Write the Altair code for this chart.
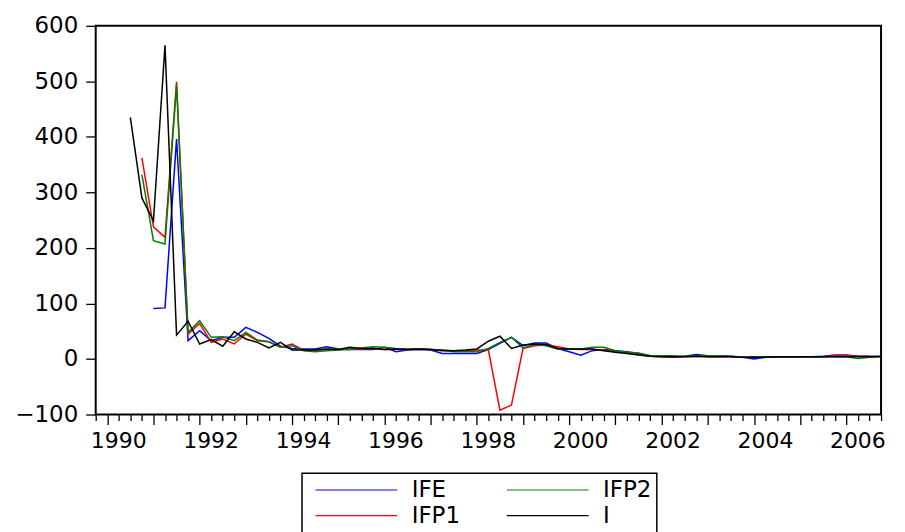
import altair as alt
import pandas as pd

# quarterly periods shown (1990Q3 .. 2006Q4)
years = list(range(1990, 2007))
all_quarters = [f"{y}Q{q}" for y in years for q in range(1, 5)]
quarters = all_quarters[2:]

series_names = ["IFE", "IFP1", "IFP2", "I"]

I_vals = [435, 290, 249, 565, 43, 68, 27, 35, 23, 49, 36, 30, 20, 30, 16,
          16, 16, 18, 17, 21, 19, 19, 17, 18, 17, 18, 17, 15, 15, 16, 18,
          32, 41, 19, 25, 27, 26, 19, 18, 18, 18, 15, 12, 10, 7, 5, 4,
          4, 4, 5, 4, 4, 4, 3, 3, 3, 4, 4, 4, 4, 4, 4, 4, 4, 4, 4]

IFP1_vals = [None,
             362, 238, 219, 499, 45, 64, 30, 36, 27, 45, 33, 31, 21, 27,
             16, 16, 17, 17, 18, 18, 19, 17, 17, 17, 18, 17, 16, 15, 15, 16,
             16, -92, -83, 19, 24, 25, 22, 18, 17, 17, 16, 13, 12, 8, 5, 4,
             4, 4, 5, 4, 4, 4, 3, 3, 3, 4, 4, 4, 4, 4, 6, 6, 5, 5,
             None]

IFP2_vals = [None,
             332, 213, 207, 493, 48, 69, 39, 40, 33, 48, 34, 31, 21, 24,
             15, 13, 15, 16, 17, 20, 22, 21, 19, 18, 18, 17, 16, 13, 13, 13,
             19, 30, 39, 20, 26, 24, 18, 18, 18, 21, 21, 15, 12, 11, 6, 6,
             6, 5, 6, 6, 6, 5, 3, 4, 4, 4, 4, 4, 4, 4, 4, 4, 1, 3, 5]

IFE_vals = [None, None,
            91, 92, 396, 33, 51, 33, 39, 39, 57, 48, 37, 23, 19,
            18, 18, 22, 18, 17, 17, 17, 21, 13, 16, 17, 16, 10, 10, 10, 10,
            17, 28, 39, 24, 29, 29, 19, 13, 7, 15, 17, 15, 13, 10, 6, 5,
            3, 5, 8, 6, 6, 5, 3, 0, 3, 4, 3, 4, 4, 5, 7, 7, 5, 5, 5]

legend_order = ["IFE", "IFP1", "IFP2", "I"]
legend_colors = ["#0000ff", "#ff0000", "#008000", "#000000"]

rows = []
for name, vals in zip(series_names, [IFE_vals, IFP1_vals, IFP2_vals, I_vals]):
    for per, v in zip(quarters, vals):
        if v is None:
            continue
        y, q = per.split("Q")
        rows.append({"series": name, "t": int(y) + (int(q) - 1) / 4, "value": v})
df = pd.DataFrame(rows)

x_ticks = [1989.75 + 0.25 * k for k in range(69)]
y_ticks = list(range(-100, 601, 100))

FONT = "DejaVu Sans"

chart = alt.Chart(df).mark_line(strokeWidth=1.5).encode(
    x=alt.X("t:Q",
            scale=alt.Scale(domain=[1989.75, 2006.75], nice=False, zero=False),
            axis=alt.Axis(values=x_ticks, title=None, grid=False, domain=False,
                          tickColor="black", tickWidth=1.3,
                          tickSize={"condition": {"test": "datum.value % 1 == 0", "value": 10}, "value": 6},
                          labelExpr="datum.value % 2 == 0 ? toString(datum.value) : ''",
                          labelOffset=11, labelOverlap=False, labelBound=False, labelFlush=False,
                          labelFont=FONT, labelFontSize=22, labelColor="black", labelPadding=6)),
    y=alt.Y("value:Q",
            scale=alt.Scale(domain=[-100, 600], nice=False, zero=False),
            axis=alt.Axis(values=y_ticks, title=None, grid=False, domain=False,
                          tickColor="black", tickWidth=1.3, tickSize=10,
                          labelFont=FONT, labelFontSize=23, labelColor="black", labelPadding=8)),
    color=alt.Color("series:N",
                    scale=alt.Scale(domain=legend_order, range=legend_colors),
                    legend=alt.Legend(title=None, orient="none", legendX=207, legendY=449,
                                      columns=2, symbolType="M-0.3,0L7.9,0", symbolSize=400,
                                      symbolStrokeWidth=1.2, labelFont=FONT, labelFontSize=23,
                                      labelColor="black", labelOffset=82, columnPadding=38,
                                      labelExpr="datum.label == 'IFP2' ? datum.label + '\u00a0\u00a0\u00a0' : datum.label",
                                      rowPadding=2, padding=5, strokeColor="black")),
    order=alt.Order("t:Q"),
).properties(
    width=788, height=390,
    autosize=alt.AutoSizeParams(type="none"),
    padding={"left": 88, "top": 17, "right": 16, "bottom": 117},
).configure_view(stroke="black", strokeWidth=2).configure_legend(strokeWidth=1.5)

chart.save("out.html", embed_options={"renderer": "svg", "actions": False})
